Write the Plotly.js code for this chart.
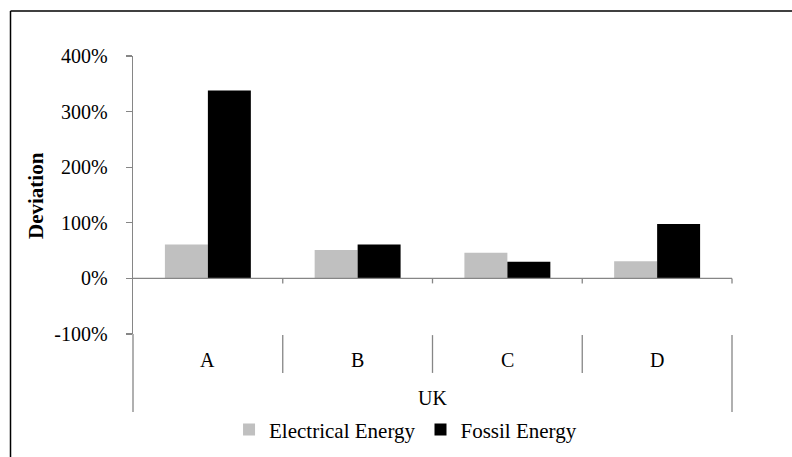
<!DOCTYPE html>
<html>
<head>
<meta charset="utf-8">
<script src="https://cdn.plot.ly/plotly-3.0.1.min.js"></script>
<style>html,body{margin:0;padding:0;background:#fff;}#chart{width:792px;height:457px;}</style>
</head>
<body>
<div id="chart"></div>
<script>
const categories = ['A', 'B', 'C', 'D'];
const groupLabel = 'UK';
const seriesNames = ['Electrical Energy', 'Fossil Energy'];
const electrical = [0.61, 0.51, 0.46, 0.31];
const fossil = [3.38, 0.61, 0.30, 0.98];
const tickVals = [-1, 0, 1, 2, 3, 4];
const tickLabels = ['-100%', '0%', '100%', '200%', '300%', '400%'];

const FONT = '"Liberation Serif", "Times New Roman", Tinos, serif';
const AXIS_GRAY = '#868686';

const traces = [
  {type: 'bar', name: seriesNames[0], x: categories, y: electrical,
   marker: {color: '#c0c0c0', line: {width: 0}}, hoverinfo: 'none'},
  {type: 'bar', name: seriesNames[1], x: categories, y: fossil,
   marker: {color: '#000000', line: {width: 0}}, hoverinfo: 'none'}
];

const n = categories.length;
const shapes = [];
// x axis line at 0
shapes.push({type: 'line', xref: 'paper', yref: 'y', x0: 0, x1: 1, y0: 0, y1: 0,
  line: {color: AXIS_GRAY, width: 1.3}});
// small ticks below axis at category boundaries
for (let i = 1; i <= n; i++) {
  shapes.push({type: 'line', xref: 'paper', yref: 'y', x0: i / n, x1: i / n, y0: 0, y1: -0.09,
    line: {color: AXIS_GRAY, width: 1.3}});
}
// category separators (inner level)
for (let i = 1; i < n; i++) {
  shapes.push({type: 'line', xref: 'paper', yref: 'paper', x0: i / n, x1: i / n, y0: -0.004, y1: -0.14,
    line: {color: AXIS_GRAY, width: 1.3}});
}
// outer separators
shapes.push({type: 'line', xref: 'paper', yref: 'paper', x0: 0, x1: 0, y0: 0, y1: -0.281,
  line: {color: AXIS_GRAY, width: 1.3}});
shapes.push({type: 'line', xref: 'paper', yref: 'paper', x0: 1, x1: 1, y0: -0.004, y1: -0.281,
  line: {color: AXIS_GRAY, width: 1.3}});
// chart frame (left and top edges)
shapes.push({type: 'line', xref: 'paper', yref: 'paper', x0: -0.2045, x1: -0.2045, y0: 1.1619, y1: -0.5,
  line: {color: '#000', width: 1.5}});
shapes.push({type: 'line', xref: 'paper', yref: 'paper', x0: -0.2045, x1: 1.2, y0: 1.1619, y1: 1.1619,
  line: {color: '#000', width: 1.5}});

const annotations = categories.map(c => ({
  text: c, xref: 'x', x: c, yref: 'paper', y: -0.0935, xanchor: 'center', yanchor: 'middle',
  showarrow: false, font: {family: FONT, size: 20, color: '#000'}
}));
annotations.push({text: groupLabel, xref: 'paper', x: 0.5, yref: 'paper', y: -0.23,
  xanchor: 'center', yanchor: 'middle', showarrow: false,
  font: {family: FONT, size: 20, color: '#000'}});
annotations.push({text: '<b>Deviation</b>', xref: 'paper', x: -0.162, yref: 'paper', y: 0.5,
  xanchor: 'center', yanchor: 'middle', textangle: -90, showarrow: false,
  font: {family: FONT, size: 21, color: '#000'}});

const layout = {
  width: 792, height: 457,
  margin: {l: 133, r: 60, t: 56, b: 123, pad: 0, autoexpand: false},
  paper_bgcolor: '#fff', plot_bgcolor: '#fff',
  font: {family: FONT, size: 20, color: '#000'},
  barmode: 'group', bargap: 0.426, bargroupgap: 0,
  showlegend: true,
  legend: {orientation: 'h', x: 0.455, xanchor: 'center', y: -0.345, yanchor: 'middle',
    font: {family: FONT, size: 21, color: '#000'}, bgcolor: 'rgba(0,0,0,0)', traceorder: 'normal'},
  xaxis: {type: 'category', range: [-0.5, n - 0.5], showline: false, showticklabels: false,
    ticks: '', showgrid: false, zeroline: false, fixedrange: true, automargin: false},
  yaxis: {range: [-1, 4], tickvals: tickVals, ticktext: tickLabels, showline: true,
    linecolor: AXIS_GRAY, linewidth: 1.3, ticks: 'outside', ticklen: 6, tickcolor: AXIS_GRAY,
    tickwidth: 1.3, showgrid: false, zeroline: false, ticklabelstandoff: 14, automargin: false,
    tickfont: {family: FONT, size: 20, color: '#000'}, fixedrange: true},
  shapes: shapes,
  annotations: annotations
};

Plotly.newPlot('chart', traces, layout, {staticPlot: true, displayModeBar: false});
</script>
</body>
</html>
